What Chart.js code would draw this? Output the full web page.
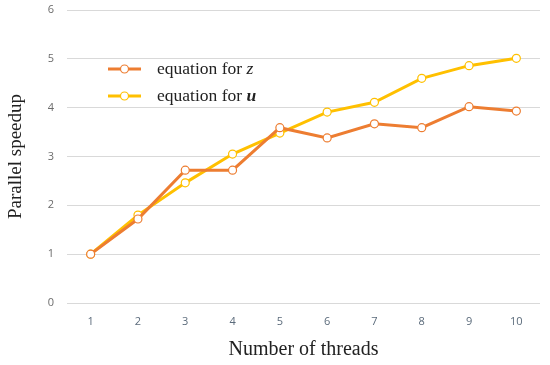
<!DOCTYPE html>
<html>
<head>
<meta charset="utf-8">
<script src="https://cdn.jsdelivr.net/npm/chart.js@4/dist/chart.umd.min.js"></script>
<style>
  html, body { margin: 0; padding: 0; background: #fff; }
  #wrap { width: 550px; height: 365px; position: relative; }
</style>
</head>
<body>
<div id="wrap"><canvas id="c" width="550" height="365"></canvas></div>
<script>
const threads = ['1','2','3','4','5','6','7','8','9','10'];
const speedupZ = [1.00, 1.72, 2.72, 2.72, 3.59, 3.38, 3.67, 3.59, 4.02, 3.93];
const speedupU = [1.00, 1.80, 2.46, 3.05, 3.48, 3.91, 4.11, 4.60, 4.86, 5.01];
const yTicks = [0, 1, 2, 3, 4, 5, 6];

const ORANGE = '#ED7D31';
const YELLOW = '#FFC000';

const legendPlugin = {
  id: 'customLegend',
  afterDraw(chart) {
    const ctx = chart.ctx;
    const F = '17.5px "Liberation Serif", serif';
    const items = [
      { color: ORANGE, parts: [['equation for ', 'normal ' + F], ['z', 'italic ' + F]], y: 69 },
      { color: YELLOW, parts: [['equation for ', 'normal ' + F], ['u', 'italic bold ' + F]], y: 96 }
    ];
    ctx.save();
    items.forEach(it => {
      ctx.strokeStyle = it.color;
      ctx.lineWidth = 3;
      ctx.beginPath();
      ctx.moveTo(108, it.y);
      ctx.lineTo(141, it.y);
      ctx.stroke();
      ctx.beginPath();
      ctx.arc(124.5, it.y, 4, 0, Math.PI * 2);
      ctx.fillStyle = '#fff';
      ctx.fill();
      ctx.lineWidth = 1.2;
      ctx.stroke();
      let x = 157;
      ctx.fillStyle = '#222';
      ctx.textBaseline = 'middle';
      it.parts.forEach(([t, f]) => {
        ctx.font = f;
        ctx.fillText(t, x, it.y);
        x += ctx.measureText(t).width;
      });
    });
    ctx.restore();
  }
};

new Chart(document.getElementById('c'), {
  type: 'line',
  data: {
    labels: threads,
    datasets: [
      { label: 'equation for z', data: speedupZ, borderColor: ORANGE, backgroundColor: '#fff',
        borderWidth: 3, pointRadius: 4, pointBorderWidth: 1.2, pointBackgroundColor: '#fff', pointBorderColor: ORANGE, tension: 0 },
      { label: 'equation for u', data: speedupU, borderColor: YELLOW, backgroundColor: '#fff',
        borderWidth: 3, pointRadius: 4, pointBorderWidth: 1.2, pointBackgroundColor: '#fff', pointBorderColor: YELLOW, tension: 0 }
    ]
  },
  options: {
    responsive: false,
    animation: false,
    layout: { padding: { top: 10, right: 10, left: 0, bottom: 0 } },
    plugins: { legend: { display: false }, tooltip: { enabled: false } },
    scales: {
      x: {
        offset: true,
        grid: { display: false, drawTicks: false },
        border: { display: false },
        ticks: { color: '#5b6b7b', font: { family: '"Open Sans", sans-serif', size: 11 }, padding: 12 },
        title: { display: true, text: 'Number of threads', color: '#222',
                 font: { family: '"Liberation Serif", serif', size: 20 }, padding: { top: 0, bottom: 3 } },
        afterFit(s) { s.height = 62; }
      },
      y: {
        min: 0, max: 6,
        afterBuildTicks(s) { s.ticks = yTicks.map(v => ({ value: v })); },
        grid: { color: '#d9d9d9', lineWidth: 1, drawTicks: false },
        border: { display: false },
        ticks: { color: '#6b6b6b', font: { family: '"Open Sans", sans-serif', size: 11 }, padding: 13 },
        title: { display: true, text: 'Parallel speedup', color: '#222',
                 font: { family: '"Liberation Serif", serif', size: 19 }, padding: { top: 5, bottom: 0 } },
        afterFit(s) { s.width = 67; s.paddingTop = 0; s.paddingBottom = 0; }
      }
    }
  },
  plugins: [legendPlugin]
});
</script>
</body>
</html>
